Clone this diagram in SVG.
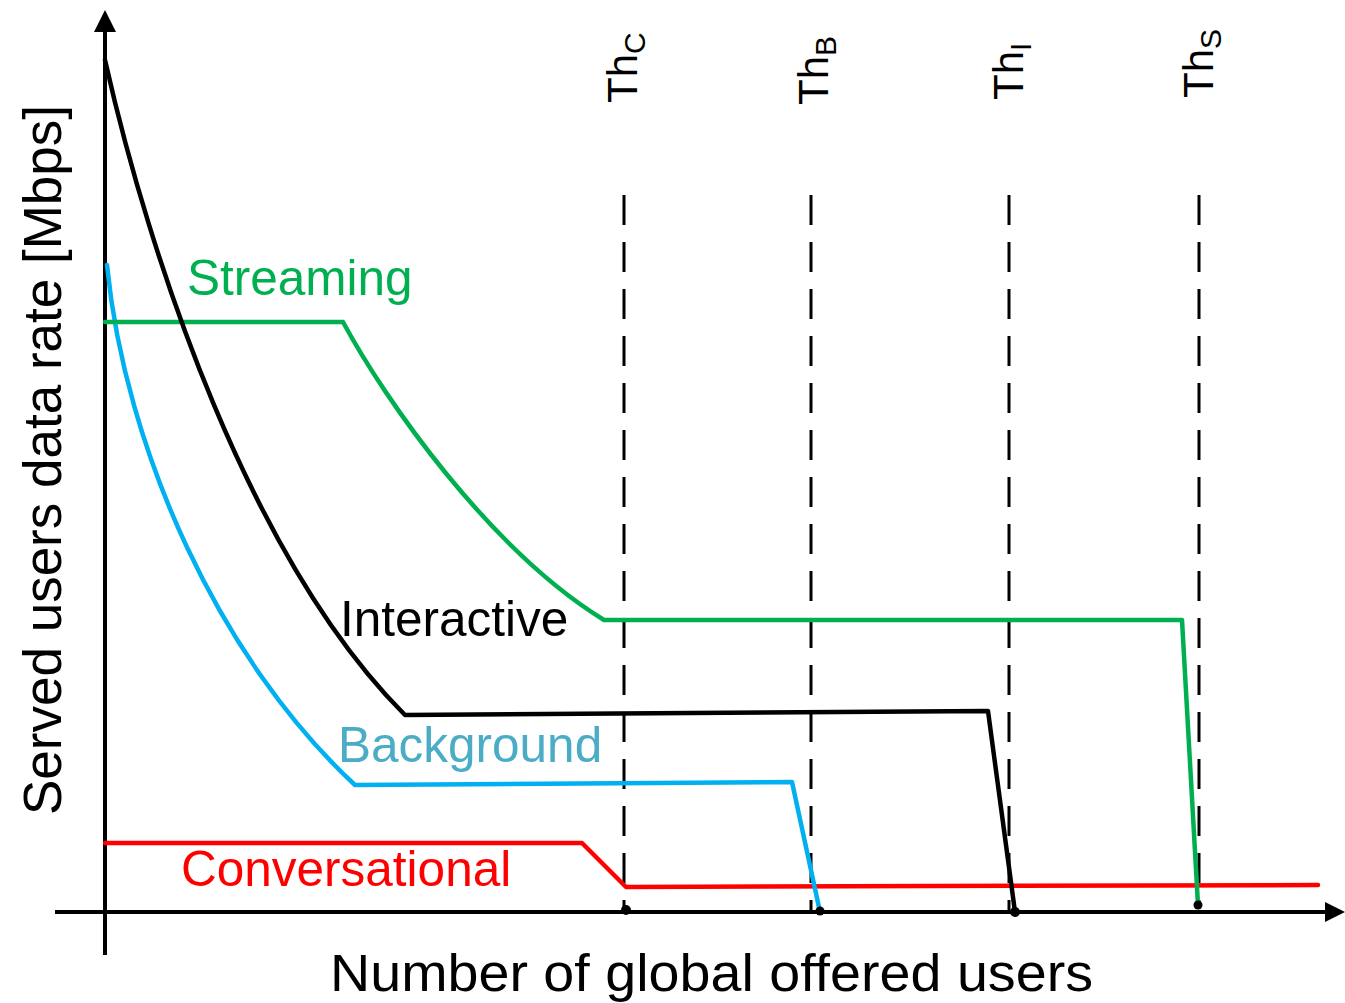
<svg xmlns="http://www.w3.org/2000/svg" width="1345" height="1003" viewBox="0 0 1345 1003">
<style>
.ax{stroke:#000;stroke-width:4;fill:none}
.dash{stroke:#000;stroke-width:3;stroke-dasharray:30 17;fill:none}
.ln{stroke-width:4.5;fill:none;stroke-linejoin:round;stroke-linecap:round}
.lbl{font-family:"Liberation Sans",Arial,sans-serif;font-size:49.5px}
.cal{font-family:"Liberation Sans",Arial,sans-serif}
</style>
<rect width="1345" height="1003" fill="#fff"/>
<g id="axes">
<line class="ax" x1="105" y1="28" x2="105" y2="955"/>
<polygon points="105,10 94,32 116,32" fill="#000"/>
<line class="ax" x1="55" y1="912" x2="1330" y2="912"/>
<polygon points="1345,912 1325,902 1325,922" fill="#000"/>
</g>
<g id="thresholds">
<line class="dash" x1="624" y1="195" x2="624" y2="910"/>
<line class="dash" x1="811" y1="195" x2="811" y2="910"/>
<line class="dash" x1="1009" y1="195" x2="1009" y2="910"/>
<line class="dash" x1="1199" y1="195" x2="1199" y2="905"/>
</g>
<g id="curves">
<path id="conversational-line" class="ln" stroke="#FF0000" d="M105,843 L582,843 L626,887 L1318,885"/>
<path id="background-line" class="ln" stroke="#00B0F0" d="M107,265 C125,450 220,660 355,785 L792,782 L820,912"/>
<path id="streaming-line" class="ln" stroke="#00B050" d="M105,322 L343,322 C385,400 490,550 604,620 L1182,620 L1198,905"/>
<path id="interactive-line" class="ln" stroke="#000" d="M105,60 C150,260 250,560 405,715 L988,711 L1015,912"/>
</g>
<g id="points" fill="#000">
<circle cx="626" cy="910" r="5"/>
<circle cx="820" cy="911" r="4.5"/>
<circle cx="1015" cy="912" r="5"/>
<circle cx="1198" cy="905" r="4.5"/>
</g>
<g id="labels">
<text class="lbl" x="187" y="295" fill="#00B050">Streaming</text>
<text class="lbl" x="340" y="636" fill="#000">Interactive</text>
<text class="lbl" x="338" y="762" fill="#4BACC6">Background</text>
<text class="lbl" x="181" y="886" fill="#FF0000">Conversational</text>
</g>
<g id="threshold-labels" class="cal" font-size="42" fill="#000">
<text transform="translate(637,103) rotate(-90)">Th<tspan font-size="30" dy="8">C</tspan></text>
<text transform="translate(828,105) rotate(-90)">Th<tspan font-size="30" dy="8">B</tspan></text>
<text transform="translate(1023,100) rotate(-90)">Th<tspan font-size="30" dy="8">I</tspan></text>
<text transform="translate(1213,98) rotate(-90)">Th<tspan font-size="30" dy="8">S</tspan></text>
</g>
<g id="axis-titles" class="cal">
<text transform="translate(61,815) rotate(-90)" font-size="54" textLength="710" lengthAdjust="spacingAndGlyphs">Served users data rate [Mbps]</text>
<text x="330" y="991" font-size="51" textLength="763" lengthAdjust="spacingAndGlyphs">Number of global offered users</text>
</g>
</svg>
